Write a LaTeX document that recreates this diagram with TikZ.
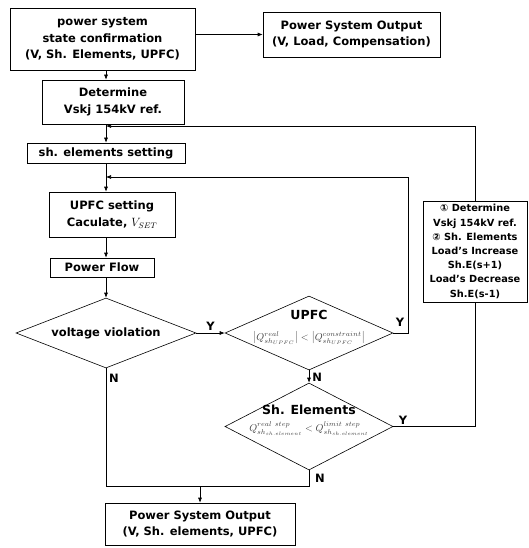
\documentclass[tikz,border=0pt]{standalone}
\usepackage{fontspec}
\setmainfont{DejaVu Sans}
\newfontfamily\circfont{DejaVu Sans}
\usepackage{tikz}
\usetikzlibrary{arrows.meta,positioning,shapes.geometric,calc}

\begin{document}
\begin{tikzpicture}[x=1pt,y=1pt,
  box/.style={draw=black, line width=0.6pt, align=center, inner sep=0pt, font=\fontsize{11.5}{16.5}\selectfont\bfseries},
  dia/.style={draw=black, line width=0.6pt, diamond, inner sep=0pt},
  arr/.style={-{Latex[length=5pt,width=4pt]}, line width=0.6pt},
  ln/.style={line width=0.6pt},
  yn/.style={font=\fontsize{11.5}{12}\selectfont\bfseries, inner sep=1pt},
  frm/.style={font=\fontsize{10}{10}\selectfont, text=black!75, inner sep=0pt}]
  \useasboundingbox (0,0) rectangle (529,-548);

  \node[box, minimum width=185, minimum height=62] (conf) at (102.5,-39) {power system\\state confirmation\\(V, Sh. Elements, UPFC)};
  \node[box, minimum width=177, minimum height=45] (out1) at (351.5,-34.5) {Power System Output\\(V, Load, Compensation)};
  \node[box, minimum width=142, minimum height=44] (vref) at (113,-102) {Determine\\Vskj 154kV ref.};
  \node[box, minimum width=158, minimum height=20] (shset) at (106,-153) {sh. elements setting};
  \node[box, minimum width=126, minimum height=45] (upset) at (112,-214.5) {UPFC setting\\Caculate, {\mdseries$V_{SET}$}};
  \node[box, minimum width=104, minimum height=19] (pflow) at (102,-267.5) {Power Flow};
  \node[box, minimum width=104, minimum height=101, font=\fontsize{9.8}{14.2}\selectfont\bfseries] (rule) at (475,-251.5) {① Determine\\Vskj 154kV ref.\\② Sh. Elements\\Load's Increase\\Sh.E(s+1)\\Load's Decrease\\Sh.E(s-1)};
  \node[box, minimum width=190, minimum height=42] (out2) at (200,-524) {Power System Output\\(V, Sh. elements, UPFC)};

  \node[dia, minimum width=180, minimum height=70] (volt) at (106,-333) {};
  \node[font=\fontsize{11.5}{12}\selectfont\bfseries] at (volt) {voltage violation};
  \node[dia, minimum width=168, minimum height=74] (upfc) at (309,-333) {};
  \node[font=\fontsize{12.5}{13}\selectfont\bfseries] at (309,-315) {UPFC};
  \node[frm] at (309,-338) {$\left|Q^{real}_{sh_{UPFC}}\right| < \left|Q^{constraint}_{sh_{UPFC}}\right|$};
  \node[dia, minimum width=168, minimum height=87] (shel) at (309,-426.5) {};
  \node[font=\fontsize{12.5}{13}\selectfont\bfseries] at (309,-410) {Sh. Elements};
  \node[frm] at (309,-429) {$Q^{real\ step}_{sh_{sh.element}} < Q^{limit\ step}_{sh_{sh.element}}$};

  \coordinate (sp) at (106,0);
  \coordinate (j1) at (106,-126);
  \coordinate (j2) at (106,-177);
  \coordinate (ur) at (408,-177);
  \coordinate (jb) at (200,-486);
  \coordinate (jr) at (309,-486);

  \draw[arr] (conf.east |- out1) -- (out1.west);
  \draw[arr] (conf.south -| sp) -- (vref.north -| sp);
  \draw[arr] (vref.south -| sp) -- (shset.north -| sp);
  \draw[arr] (rule.north) |- (j1);
  \draw[arr] (shset.south -| sp) -- (upset.north -| sp);
  \draw[arr] (upfc.east) -| (ur) -- (j2);
  \draw[arr] (upset.south -| sp) -- (pflow.north -| sp);
  \draw[arr] (pflow.south -| sp) -- (volt.north);
  \draw[arr] (volt.east) -- node[yn, above=1pt] {Y} (upfc.west);
  \draw[arr] (upfc.south) -- node[yn, right=2pt, pos=0.6] {N} (shel.north);
  \draw[ln] (shel.east) -| (rule.south);
  \node[yn] at (403,-420) {Y};
  \node[yn] at (400,-322) {Y};
  \draw[ln] (volt.south) |- (jr) -- (shel.south);
  \node[yn] at (114,-378) {N};
  \node[yn] at (320,-478) {N};
  \draw[arr] (jb) -- (out2.north);
\end{tikzpicture}
\end{document}
